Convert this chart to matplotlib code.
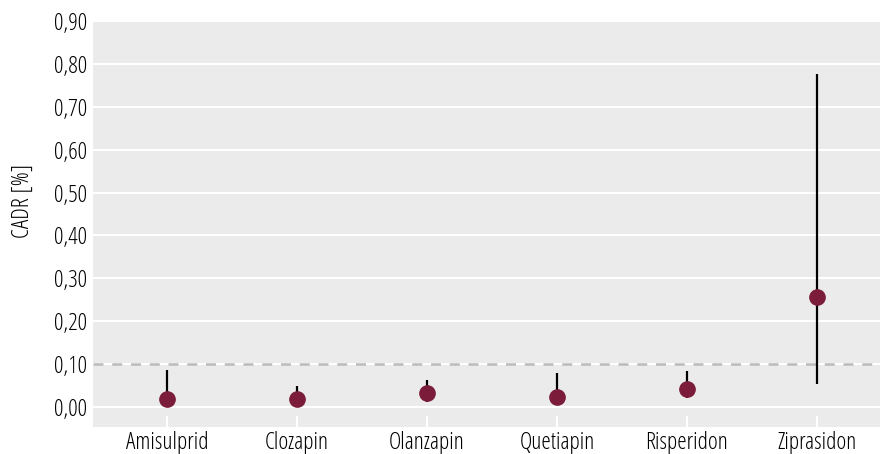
import matplotlib
matplotlib.use("Agg")
import matplotlib.pyplot as plt
from matplotlib.ticker import FuncFormatter

plt.rcParams['font.family'] = ['Open Sans', 'DejaVu Sans']
plt.rcParams['font.stretch'] = 'condensed'
plt.rcParams['font.weight'] = 'light'

drugs = ["Amisulprid", "Clozapin", "Olanzapin", "Quetiapin", "Risperidon", "Ziprasidon"]
cadr = [0.019, 0.019, 0.032, 0.024, 0.041, 0.256]
ci_low = [0.002, 0.002, 0.012, 0.007, 0.020, 0.054]
ci_high = [0.086, 0.049, 0.063, 0.078, 0.084, 0.776]
threshold = 0.10

fig = plt.figure(figsize=(8.8, 4.54), dpi=100)
ax = fig.add_axes([0.1057, 0.0595, 0.8943, 0.8965])
ax.set_facecolor("#EBEBEB")

x = list(range(len(drugs)))
ax.axhline(threshold, color="#BBBBBB", lw=1.8, ls=(0, (4, 3.5)), zorder=1)
ax.vlines(x, ci_low, ci_high, color="black", lw=1.6, zorder=2)
ax.plot(x, cadr, "o", color="#7A1C3A", markersize=11, zorder=3)

ax.set_ylim(-0.047, 0.903)
ax.set_xlim(-0.57, 5.485)
ax.set_yticks([i / 10 for i in range(10)])
ax.yaxis.set_major_formatter(FuncFormatter(lambda v, p: f"{v:.2f}".replace(".", ",")))
ax.set_xticks(x)
ax.set_xticklabels(drugs)
ax.grid(axis="y", color="white", lw=1.5)
ax.set_axisbelow(True)
for s in ax.spines.values():
    s.set_visible(False)
ax.tick_params(axis="y", length=0, labelsize=17, pad=4)
ax.tick_params(axis="x", direction="in", length=8, width=1.5, color="white",
               labelsize=17, pad=3)
ax.set_ylabel("CADR [%]", fontsize=17, labelpad=14, y=0.555)

fig.savefig("out.png", dpi=100)
